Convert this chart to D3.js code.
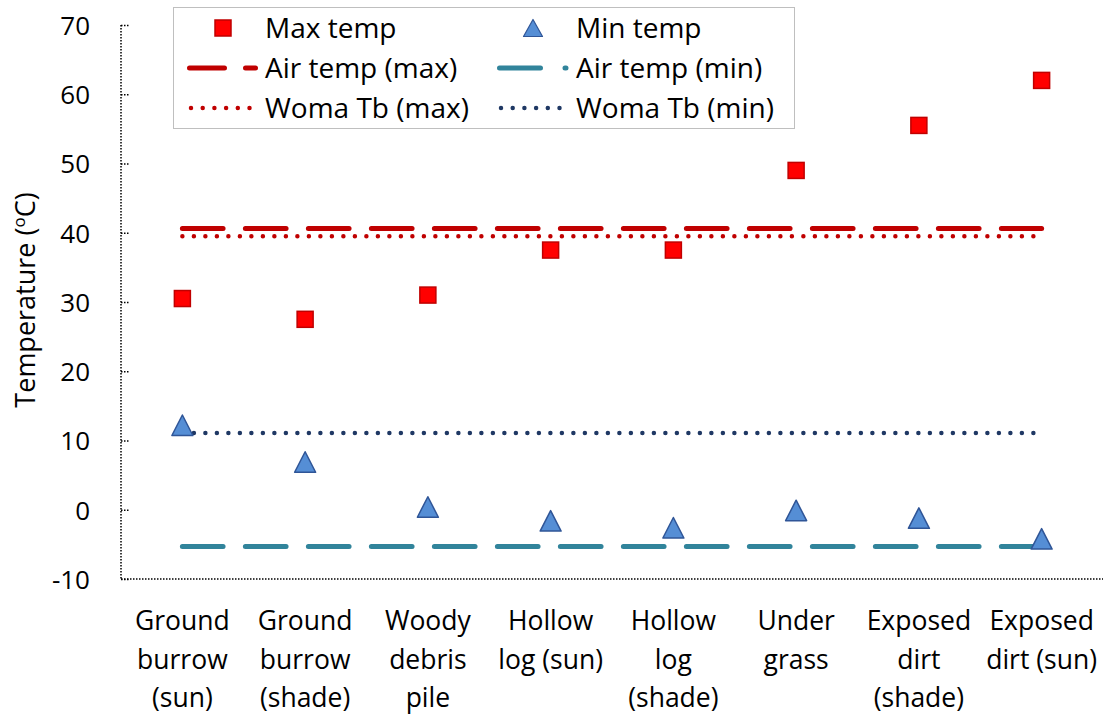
<!DOCTYPE html>
<html>
<head>
<meta charset="utf-8">
<script src="https://cdn.jsdelivr.net/npm/d3@7"></script>
<style>
  body { margin: 0; background: #fff; }
  text { font-family: "Open Sans", sans-serif; fill: #000; }
</style>
</head>
<body>
<div id="chart"></div>
<script>
// data
var categories = [
  ["Ground", "burrow", "(sun)"],
  ["Ground", "burrow", "(shade)"],
  ["Woody", "debris", "pile"],
  ["Hollow", "log (sun)"],
  ["Hollow", "log", "(shade)"],
  ["Under", "grass"],
  ["Exposed", "dirt", "(shade)"],
  ["Exposed", "dirt (sun)"]
];
var maxTemp = [30.5, 27.5, 31, 37.5, 37.5, 49, 55.5, 62];
var minTemp = [12.2, 6.9, 0.4, -1.6, -2.6, -0.1, -1.2, -4.2];
var airMax = 40.6, airMin = -5.3;
var womaMax = 39.5, womaMin = 11.1;
var yTicks = [-10, 0, 10, 20, 30, 40, 50, 60, 70];

var W = 1107, H = 720;
var margin = {top: 25, right: 4, bottom: 141, left: 121};
var width = W - margin.left - margin.right,
    height = H - margin.top - margin.bottom;

var svg = d3.select("#chart")
  .append("svg")
    .attr("width", W)
    .attr("height", H);
var g = svg.append("g")
    .attr("transform", "translate(" + margin.left + "," + margin.top + ")");

var x = d3.scaleBand()
  .domain(d3.range(categories.length))
  .range([0, width]);
var y = d3.scaleLinear()
  .domain([-10, 70])
  .range([height, 0]);
var cx = function(i) { return x(i) + x.bandwidth() / 2; };

// Y axis (dotted, ticks pointing inward)
var yAxis = g.append("g")
  .call(d3.axisLeft(y).tickValues(yTicks).tickSize(-9).tickPadding(31)
    .tickFormat(function(d) { return String(d); }));
yAxis.select(".domain").remove();
yAxis.selectAll(".tick line")
  .attr("stroke", "#000").attr("stroke-width", 1.5).attr("stroke-dasharray", "1.5,1.5");
yAxis.selectAll(".tick text")
  .style("font-size", "26px").attr("dy", "0.36em");
g.append("line")
  .attr("x1", 0).attr("x2", 0).attr("y1", y(70)).attr("y2", height)
  .attr("stroke", "#000").attr("stroke-width", 1.5).attr("stroke-dasharray", "1.5,1.5");
g.append("line")
  .attr("x1", 0).attr("x2", width).attr("y1", height).attr("y2", height)
  .attr("stroke", "#000").attr("stroke-width", 1.5).attr("stroke-dasharray", "1.5,1.5");

// Y axis title
svg.append("text")
  .attr("transform", "translate(35,300) rotate(-90)")
  .attr("text-anchor", "middle")
  .style("font-size", "27px")
  .html('Temperature (<tspan dy="-10" font-size="17">o</tspan><tspan dy="10">C)</tspan>');

// category labels
categories.forEach(function(lines, i) {
  var t = g.append("text")
    .attr("text-anchor", "middle")
    .style("font-size", "26.5px");
  lines.forEach(function(s, k) {
    t.append("tspan")
      .attr("x", cx(i))
      .attr("y", height + 51 + k * 38.5)
      .text(s);
  });
});

// reference lines
var x0 = cx(0), x1 = cx(categories.length - 1);
function hline(v, color, w, dash) {
  g.append("line")
    .attr("x1", x0).attr("x2", x1)
    .attr("y1", y(v)).attr("y2", y(v))
    .attr("stroke", color).attr("stroke-width", w)
    .attr("stroke-linecap", "round")
    .attr("stroke-dasharray", dash);
}
hline(womaMin, "#1F3864", 4.5, "0,11.5");
hline(airMin, "#31849B", 5, "40.7,22.3");
hline(womaMax, "#C00000", 4.5, "0,11.5");
hline(airMax, "#C00000", 5, "40.7,22.3");

// markers
function triPath(w, h) {
  return "M0," + (-h / 2) + "L" + (w / 2) + "," + (h / 2) + "L" + (-w / 2) + "," + (h / 2) + "Z";
}
g.selectAll(".minpt")
  .data(minTemp)
  .enter().append("path")
    .attr("class", "minpt")
    .attr("d", triPath(21, 20.5))
    .attr("transform", function(d, i) { return "translate(" + cx(i) + "," + y(d) + ")"; })
    .attr("fill", "#558ED5")
    .attr("stroke", "#2F5597")
    .attr("stroke-width", 1.5)
    .attr("stroke-linejoin", "round");
g.selectAll(".maxpt")
  .data(maxTemp)
  .enter().append("rect")
    .attr("class", "maxpt")
    .attr("x", function(d, i) { return cx(i) - 8; })
    .attr("y", function(d) { return y(d) - 8; })
    .attr("width", 16).attr("height", 16)
    .attr("fill", "#FF0000")
    .attr("stroke", "#C00000")
    .attr("stroke-width", 1.5);

// legend
var lg = svg.append("g");
lg.append("rect")
  .attr("x", 173.5).attr("y", 7.5).attr("width", 621).attr("height", 121)
  .attr("fill", "#fff").attr("stroke", "#BFBFBF").attr("stroke-width", 1);
var rows = [28, 68, 108];
function ltext(xp, yp, s) {
  lg.append("text").attr("x", xp).attr("y", yp).attr("dy", "0.36em")
    .style("font-size", "28px").text(s);
}
function lline(xa, xb, yp, color, w, dash) {
  lg.append("line").attr("x1", xa).attr("x2", xb).attr("y1", yp).attr("y2", yp)
    .attr("stroke", color).attr("stroke-width", w)
    .attr("stroke-linecap", "round").attr("stroke-dasharray", dash);
}
lg.append("rect").attr("x", 215).attr("y", rows[0] - 8).attr("width", 16).attr("height", 16)
  .attr("fill", "#FF0000").attr("stroke", "#C00000").attr("stroke-width", 1.5);
ltext(265, rows[0], "Max temp");
lg.append("path").attr("d", triPath(19, 17))
  .attr("transform", "translate(533," + rows[0] + ")")
  .attr("fill", "#558ED5").attr("stroke", "#2F5597").attr("stroke-width", 1.2)
  .attr("stroke-linejoin", "round");
ltext(576, rows[0], "Min temp");

lline(189.5, 255.5, rows[1], "#C00000", 5, "35,21");
ltext(265, rows[1], "Air temp (max)");
lline(499.5, 566, rows[1], "#31849B", 5, "41,24.5");
ltext(576, rows[1], "Air temp (min)");
lline(191, 249.5, rows[2], "#C00000", 4.5, "0,11.7");
ltext(265, rows[2], "Woma Tb (max)");
lline(501, 559.5, rows[2], "#1F3864", 4.5, "0,11.7");
ltext(576, rows[2], "Woma Tb (min)");
</script>
</body>
</html>
